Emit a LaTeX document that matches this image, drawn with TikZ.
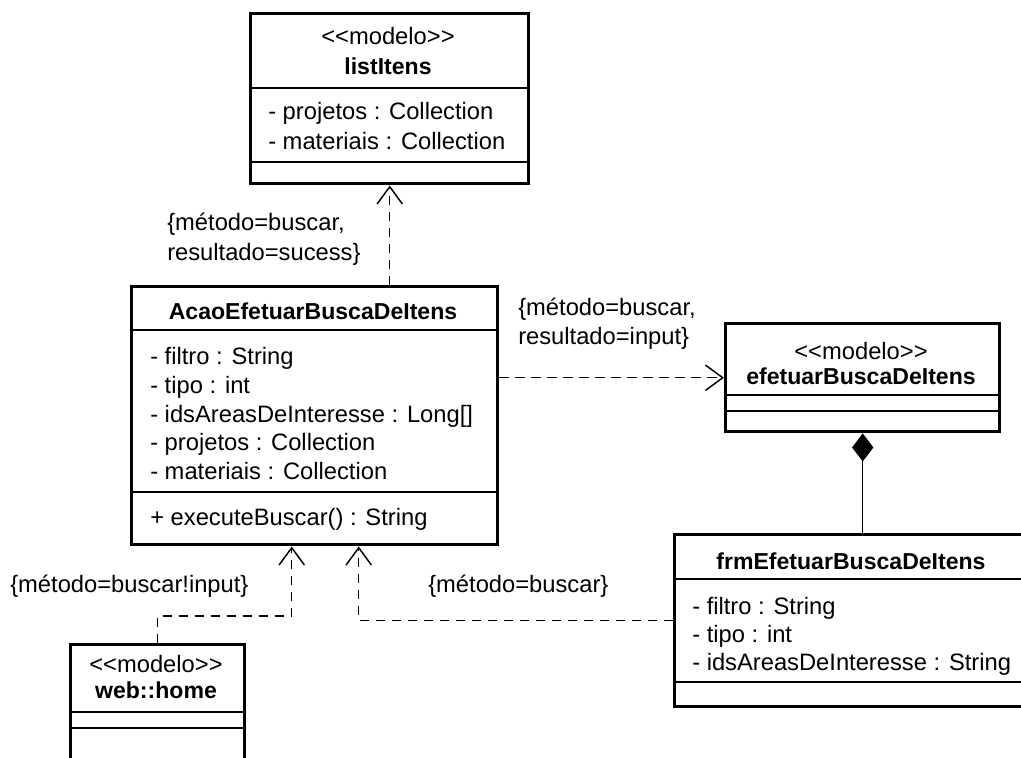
\documentclass[tikz,border=0pt]{standalone}
\usepackage{fontspec}
\setmainfont{Liberation Sans}
\usetikzlibrary{arrows.meta,calc}

% stereotype guillemets written as separate characters
\newcommand{\umlstereo}[1]{\mbox{<}\mbox{<}#1\mbox{>}\mbox{>}}

\begin{document}
\begin{tikzpicture}[x=0.75pt,y=-0.75pt,
  classbox/.style={draw=black, line width=2.6pt, fill=white, rectangle, inner sep=0pt, anchor=north west},
  sepline/.style={line width=1.1pt},
  txt/.style={anchor=base west, inner sep=0pt, font=\fontsize{17.8}{21}\selectfont},
  ctxt/.style={anchor=base, inner sep=0pt, font=\fontsize{17.8}{21}\selectfont},
  bold/.style={anchor=base, inner sep=0pt, font=\fontsize{17.3}{21}\selectfont\bfseries},
  dep/.style={line width=1.1pt, dash pattern=on 7pt off 5pt, -{Straight Barb[length=13pt,width=19pt]}},
  comp/.style={line width=1.1pt, {Diamond[length=21pt,width=16pt]}-},
]
\fill[white] (0,0) rectangle (1021,757);
\useasboundingbox (0,0) rectangle (1021,757);

% ---- class listItens
\node[classbox, minimum width=208.5pt, minimum height=127.5pt] (listitens) at (249,12) {};
\draw[sepline] (listitens.west |- 0,88) -- (listitens.east |- 0,88);
\draw[sepline] (listitens.west |- 0,162) -- (listitens.east |- 0,162);
\node[ctxt] (li-st) at (388,44) {\umlstereo{modelo}};
\node[bold] (li-nm) at (388,74) {listItens};
\node[txt] (li-a1) at (268,119) {- projetos : Collection};
\node[txt] (li-a2) at (268,149) {- materiais : Collection};

% ---- class AcaoEfetuarBuscaDeItens
\node[classbox, minimum width=274.5pt, minimum height=193.5pt] (acao) at (130,285) {};
\draw[sepline] (acao.west |- 0,330) -- (acao.east |- 0,330);
\draw[sepline] (acao.west |- 0,492) -- (acao.east |- 0,492);
\node[bold] (ac-nm) at (313,319) {AcaoEfetuarBuscaDeItens};
\node[txt] (ac-a1) at (150,364) {- filtro : String};
\node[txt] (ac-a2) at (150,393) {- tipo : int};
\node[txt] (ac-a3) at (150,422) {- idsAreasDeInteresse : Long[]};
\node[txt] (ac-a4) at (150,450) {- projetos : Collection};
\node[txt] (ac-a5) at (150,479) {- materiais : Collection};
\node[txt] (ac-m1) at (150,525) {+ executeBuscar() : String};

% ---- class efetuarBuscaDeItens
\node[classbox, minimum width=205.5pt, minimum height=81pt] (efetuar) at (724,322) {};
\draw[sepline] (efetuar.west |- 0,395) -- (efetuar.east |- 0,395);
\draw[sepline] (efetuar.west |- 0,411) -- (efetuar.east |- 0,411);
\node[ctxt] (ef-st) at (861,359) {\umlstereo{modelo}};
\node[bold] (ef-nm) at (861,384) {efetuarBuscaDeItens};

% ---- class frmEfetuarBuscaDeItens
\node[classbox, minimum width=267.75pt, minimum height=129pt] (frm) at (673,533) {};
\draw[sepline] (frm.west |- 0,579) -- (frm.east |- 0,579);
\draw[sepline] (frm.west |- 0,682) -- (frm.east |- 0,682);
\node[bold] (fr-nm) at (851,569) {frmEfetuarBuscaDeItens};
\node[txt] (fr-a1) at (692,614) {- filtro : String};
\node[txt] (fr-a2) at (692,642) {- tipo : int};
\node[txt] (fr-a3) at (692,670) {- idsAreasDeInteresse : String};

% ---- class web::home
\node[classbox, minimum width=130.5pt, minimum height=117.75pt] (home) at (69,643) {};
\draw[sepline] (home.west |- 0,712) -- (home.east |- 0,712);
\draw[sepline] (home.west |- 0,728) -- (home.east |- 0,728);
\node[ctxt] (ho-st) at (156,672) {\umlstereo{modelo}};
\node[bold] (ho-nm) at (156,698) {web::home};

% ---- dependencies
\draw[dep] (listitens.south |- acao.north) -- (listitens.south);
\node[txt] (lb1a) at (167,230) {\{método=buscar,};
\node[txt] (lb1b) at (167,260) {resultado=sucess\}};

\draw[dep] (acao.east |- efetuar.west) -- (efetuar.west);
\node[txt] (lb2a) at (518,315) {\{método=buscar,};
\node[txt] (lb2b) at (518,344) {resultado=input\}};

\coordinate (homebend) at (157,616);
\draw[dep] (home.north) -- (home.north |- homebend) -| ($(acao.south)+(-23,0)$);
\node[txt] (lb3) at (10,592) {\{método=buscar!input\}};

\draw[dep] (frm.west) -| ($(acao.south)+(44,0)$);
\node[txt] (lb4) at (428,592) {\{método=buscar\}};

% ---- composition
\draw[comp] (efetuar.south) -- (efetuar.south |- frm.north);
\end{tikzpicture}
\end{document}
